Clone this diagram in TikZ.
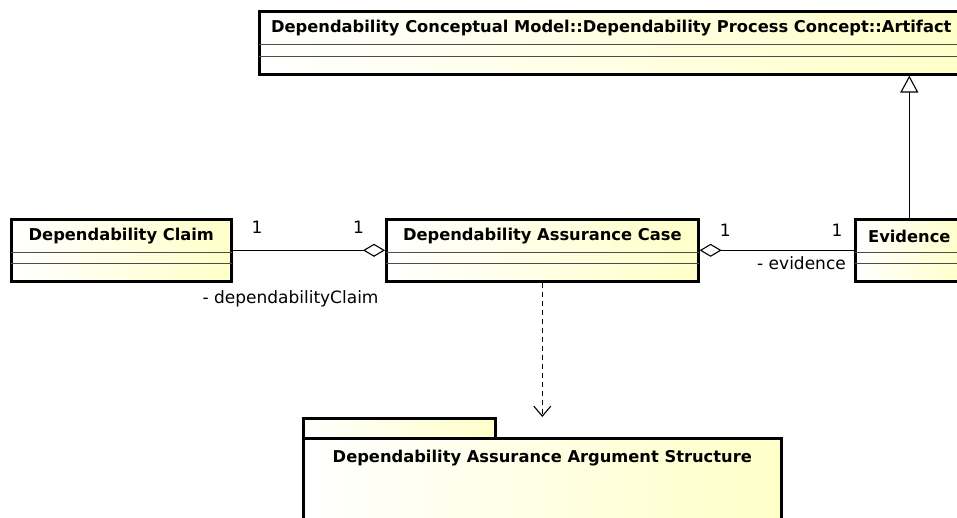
\documentclass[tikz,border=0pt]{standalone}
\usepackage{fontspec}
\setmainfont{DejaVu Sans}
\usetikzlibrary{calc,arrows.meta,positioning}
\definecolor{umlyellow}{RGB}{255,255,200}

\begin{document}
\begin{tikzpicture}[x=1pt, y=1pt,
  classbox/.style={draw, line width=2.6pt, left color=white, right color=umlyellow, inner sep=0pt, anchor=north west},
  classname/.style={font=\fontsize{16.3}{19}\selectfont\bfseries, inner sep=0pt},
  compline/.style={draw=black!70, line width=0.8pt},
  assoc/.style={draw, line width=1.1pt},
  role/.style={font=\fontsize{17}{20}\selectfont, inner sep=1pt}]
\useasboundingbox (0,0) rectangle (957,-518);

\node[classbox, minimum width=704pt, minimum height=63pt] (artifact) at (258,-10) {};
\node[classname] (artifactname) at ($(artifact.north)+(0,-18)$) {Dependability Conceptual Model::Dependability Process Concept::Artifact};
\draw[compline] ($(artifact.north west)+(1,-34)$) -- ($(artifact.north east)+(-1,-34)$);
\draw[compline] ($(artifact.north west)+(1,-46)$) -- ($(artifact.north east)+(-1,-46)$);

\node[classbox, minimum width=220pt, minimum height=62pt] (claim) at (10,-218) {};
\node[classname] (claimname) at ($(claim.north)+(0,-18)$) {Dependability Claim};
\draw[compline] ($(claim.north west)+(1,-34)$) -- ($(claim.north east)+(-1,-34)$);
\draw[compline] ($(claim.north west)+(1,-45)$) -- ($(claim.north east)+(-1,-45)$);

\node[classbox, minimum width=312pt, minimum height=62pt] (case) at (385,-218) {};
\node[classname] (casename) at ($(case.north)+(0,-18)$) {Dependability Assurance Case};
\draw[compline] ($(case.north west)+(1,-34)$) -- ($(case.north east)+(-1,-34)$);
\draw[compline] ($(case.north west)+(1,-45)$) -- ($(case.north east)+(-1,-45)$);

\node[classbox, minimum width=108pt, minimum height=62pt] (evidence) at (854,-218) {};
\node[classname] (evidencename) at ($(evidence.north)+(0,-18)$) {Evidence};
\draw[compline] ($(evidence.north west)+(1,-34)$) -- ($(evidence.north east)+(-1,-34)$);
\draw[compline] ($(evidence.north west)+(1,-45)$) -- ($(evidence.north east)+(-1,-45)$);

\node[classbox, minimum width=192pt, minimum height=21pt] (pkgtab) at (302,-417) {};
\node[classbox, minimum width=478pt, minimum height=100pt] (pkg) at (302,-437) {};
\node[classname] (pkgname) at ($(pkg.north)+(0,-21)$) {Dependability Assurance Argument Structure};

% associations
\draw[assoc, {Diamond[open, length=22pt, width=13pt]}-] (case.west) -- (claim.east)
  node[role, pos=0.174, above=15.5pt] {1}
  node[role, pos=0.839, above=15.5pt] {1}
  node[role, pos=0.62, below=39pt] {- dependabilityClaim};
\draw[assoc, {Diamond[open, length=22pt, width=13pt]}-] (case.east) -- (evidence.west)
  node[role, pos=0.167, above=12pt] {1}
  node[role, pos=0.89, above=12pt] {1}
  node[role, pos=0.66, below=5pt] {- evidence};

% generalization and dependency
\draw[assoc, -{Triangle[open, length=17pt, width=18pt]}] (evidence.north) -- (evidence.north |- artifact.south);
\draw[assoc, dash pattern=on 5pt off 4pt, -{Straight Barb[length=10pt, width=17pt]}] (case.south) -- (case.south |- pkgtab.north);

\end{tikzpicture}
\end{document}
